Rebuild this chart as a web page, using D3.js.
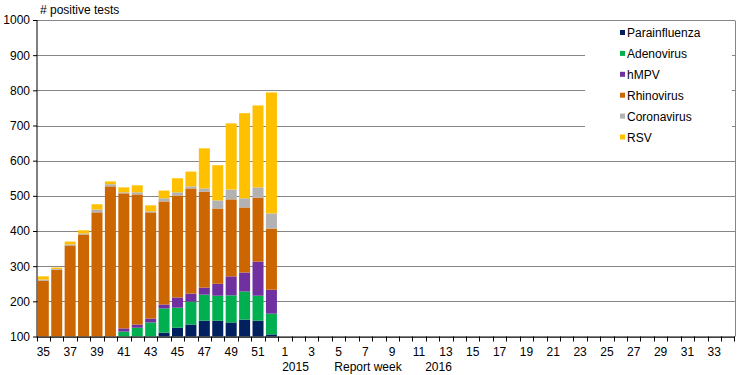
<!DOCTYPE html>
<html>
<head>
<meta charset="utf-8">
<script src="https://cdn.jsdelivr.net/npm/d3@7"></script>
<style>
  body { margin: 0; background: #fff; }
  svg { display: block; font-family: "Liberation Sans", Arial, sans-serif; }
</style>
</head>
<body>
<svg id="chart" width="740" height="375"></svg>
<script>
// Report weeks (2015 weeks 35-52, then 2016 weeks 1-34)
const weeks = ["35","36","37","38","39","40","41","42","43","44","45","46","47","48","49","50","51","52",
  "1","2","3","4","5","6","7","8","9","10","11","12","13","14","15","16","17","18","19","20",
  "21","22","23","24","25","26","27","28","29","30","31","32","33","34"];

const seriesNames = ["Parainfluenza", "Adenovirus", "hMPV", "Rhinovirus", "Coronavirus", "RSV"];
const seriesColors = ["#002060", "#00B050", "#7030A0", "#CC6600", "#B2B2B2", "#FFC000"];

// values for weeks 35-52 (later weeks have no data yet)
const parainfluenza = [10,12,15,18,22,30,45,60,80,111,125,134,145,145,140,148,145,106];
const adenovirus    = [20,22,25,30,35,40,69,65,60,69,57,65,74,71,77,80,71,59];
const hmpv          = [3,3,4,4,5,6,9,9,11,11,29,23,20,34,54,54,97,68];
const rhinovirus    = [226,253,315,338,391,451,384,370,302,293,290,299,273,214,219,185,182,174];
const coronavirus   = [3,2,3,3,8,6,3,6,3,9,9,6,9,23,28,26,29,43];
const rsv           = [9,4,8,9,15,8,14,20,17,22,40,42,114,100,188,242,233,344];

const yTicks = [100,200,300,400,500,600,700,800,900,1000];

const seriesValues = [parainfluenza, adenovirus, hmpv, rhinovirus, coronavirus, rsv];
const table = weeks.map((w, i) => {
  const row = { week: w };
  seriesNames.forEach((s, k) => { row[s] = seriesValues[k][i] != null ? seriesValues[k][i] : 0; });
  return row;
});

const svg = d3.select("#chart");
const pLeft = 36.6, pRight = 734.4, pTop = 20, pBottom = 336.5;

const x = d3.scaleBand().domain(weeks).range([pLeft, pRight]).paddingInner(0.18).paddingOuter(0.09);
const y = d3.scaleLinear().domain([100, 1000]).range([pBottom, pTop]);

// clip so stacked bars are cut at axis min (100)
svg.append("defs").append("clipPath").attr("id", "plotclip")
  .append("rect").attr("x", pLeft).attr("y", pTop).attr("width", pRight - pLeft).attr("height", pBottom - pTop);

// gridlines
svg.append("g").selectAll("line").data(yTicks).join("line")
  .attr("x1", pLeft).attr("x2", 735)
  .attr("y1", d => Math.round(y(d)) + 0.5).attr("y2", d => Math.round(y(d)) + 0.5)
  .attr("stroke", "#868686").attr("stroke-width", 1);

// right border
svg.append("line").attr("x1", 735.5).attr("x2", 735.5).attr("y1", Math.round(y(1000)) + 0.5).attr("y2", pBottom)
  .attr("stroke", "#868686");

// stacked bars
const stack = d3.stack().keys(seriesNames);
const layers = stack(table);
svg.append("g").attr("clip-path", "url(#plotclip)")
  .selectAll("g").data(layers).join("g")
  .attr("fill", (d, i) => seriesColors[i])
  .selectAll("rect").data(d => d).join("rect")
  .attr("x", d => x(d.data.week))
  .attr("width", x.bandwidth())
  .attr("y", d => y(d[1]))
  .attr("height", d => Math.max(0, y(d[0]) - y(d[1])));

// legend background + entries
const lg = svg.append("g");
lg.append("rect").attr("x", 585).attr("y", 23).attr("width", 147).attr("height", 130).attr("fill", "#fff");
const rowY = d3.scalePoint().domain(seriesNames).range([32.5, 137]);
const items = lg.selectAll("g.item").data(seriesNames).join("g").attr("class", "item");
items.append("rect")
  .attr("x", 620).attr("y", d => rowY(d) - 2.5).attr("width", 5).attr("height", 5)
  .attr("fill", (d, i) => seriesColors[i]);
items.append("text")
  .attr("x", 627).attr("y", d => rowY(d) + 4.5)
  .attr("font-size", "12px").attr("fill", "#000")
  .text(d => d);

// y axis
const yAxis = d3.axisLeft(y).tickValues(yTicks).tickSize(4).tickPadding(3).tickFormat(d3.format("d"));
const gy = svg.append("g").attr("transform", `translate(${pLeft + 0.4},0)`).call(yAxis);
gy.select(".domain").attr("stroke", "#000").attr("d", `M0,${pTop}V${pBottom}`);
gy.selectAll(".tick line").attr("stroke", "#000");
gy.selectAll(".tick text").attr("font-size", "12px").attr("fill", "#000")
  .attr("font-family", "Liberation Sans, Arial, sans-serif");

// x axis line
svg.append("line").attr("x1", pLeft).attr("x2", 735).attr("y1", pBottom + 0.5).attr("y2", pBottom + 0.5)
  .attr("stroke", "#000");

// x ticks at category boundaries
const gap = x.step() - x.bandwidth();
const bounds = weeks.map(w => x(w) - gap / 2).concat([x(weeks[weeks.length - 1]) + x.bandwidth() + gap / 2]);
svg.append("g").selectAll("line").data(bounds).join("line")
  .attr("x1", d => Math.round(d) + 0.5).attr("x2", d => Math.round(d) + 0.5)
  .attr("y1", pBottom).attr("y2", pBottom + 5)
  .attr("stroke", "#000");

// x labels (every other week)
svg.append("g").selectAll("text").data(weeks.filter((w, i) => i % 2 === 0)).join("text")
  .attr("x", d => x(d) + x.bandwidth() / 2)
  .attr("y", 356)
  .attr("text-anchor", "middle").attr("font-size", "12px").attr("fill", "#000")
  .text(d => d);

// second row labels
const row2 = [{t: "2015", cx: 295.5}, {t: "Report week", cx: 368}, {t: "2016", cx: 438.5}];
svg.append("g").selectAll("text").data(row2).join("text")
  .attr("x", d => d.cx).attr("y", 371)
  .attr("text-anchor", "middle").attr("font-size", "12px").attr("fill", "#000")
  .text(d => d.t);

// title
svg.append("text").attr("x", 40).attr("y", 14).attr("font-size", "12px").attr("fill", "#000")
  .text("# positive tests");
</script>
</body>
</html>
